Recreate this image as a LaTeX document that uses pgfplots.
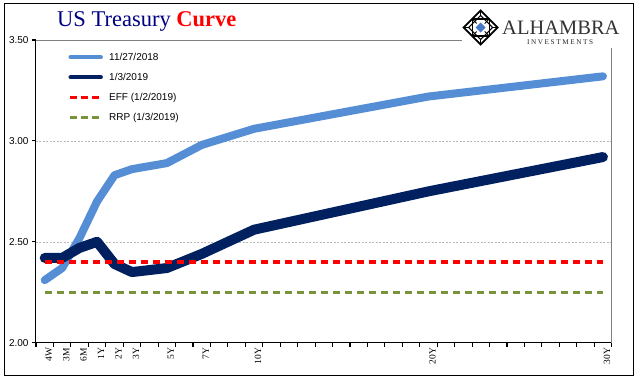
\documentclass[border=0pt]{standalone}
\usepackage{pgfplots}
\pgfplotsset{compat=1.18}
\usepackage{fontspec}
\setmainfont{Liberation Serif}
\newfontfamily\lsans{Liberation Sans}
\newfontfamily\lserif{Liberation Serif}
\newfontfamily\lserifsp{Liberation Serif}[LetterSpace=22]
\definecolor{lightblue}{RGB}{85,142,213}
\definecolor{darknavy}{RGB}{0,32,96}
\definecolor{effred}{RGB}{255,0,0}
\definecolor{rrpgreen}{RGB}{119,147,60}
\definecolor{titlenavy}{RGB}{0,0,128}
\definecolor{logoblue}{RGB}{70,120,200}
\begin{document}
\begin{tikzpicture}
\useasboundingbox (0pt,0pt) rectangle (641pt,-381pt);
\fill[white] (0pt,0pt) rectangle (641pt,-381pt);
\begin{axis}[
  at={(36pt,-342.7pt)}, anchor=south west,
  scale only axis, width=575.7pt, height=302.7pt,
  xmin=0, xmax=33, ymin=2, ymax=3.5,
  axis x line*=bottom, axis y line*=left,
  axis line style={black, line width=1pt},
  tick align=outside, major tick length=4pt,
  tick style={black, line width=1.1pt},
  major x tick style={draw=none},
  xtick={0.5,1.5,2.5,3.5,4.5,5.5,7.5,9.5,12.5,22.5,32.5},
  xticklabels={4W,3M,6M,1Y,2Y,3Y,5Y,7Y,10Y,20Y,30Y},
  xticklabel style={rotate=90, anchor=east, font=\lserif\fontsize{9.5}{11}\selectfont, inner sep=1pt, yshift=-4pt},
  ytick={2,2.5,3,3.5},
  yticklabel style={font=\lsans\fontsize{10}{12}\selectfont, /pgf/number format/.cd, fixed, fixed zerofill, precision=2, assume math mode=true},
  ymajorgrids, grid style={dashed, gray!55, line width=0.5pt, dash pattern=on 2pt off 1.5pt},
  legend style={at={(0.0556,0.965)}, anchor=north west, draw=none, fill=none,
     font=\lsans\fontsize{10}{12}\selectfont, row sep=7.3pt, inner sep=0pt,
     /tikz/every odd column/.append style={column sep=4pt}},
  legend cell align=left,
  clip=false,
]
\addplot[lightblue, line width=8pt, line cap=round, line join=round,
  legend image code/.code={\draw[lightblue, line width=4.5pt, line cap=round] (1pt,0pt) -- (31pt,0pt);}]
  coordinates {(0.5,2.31)(1.5,2.37)(2.5,2.52)(3.5,2.70)(4.5,2.83)(5.5,2.86)(7.5,2.89)(9.5,2.98)(12.5,3.06)(22.5,3.22)(32.5,3.32)};
\addlegendentry{11/27/2018}
\addplot[darknavy, line width=10pt, line cap=round, line join=round,
  legend image code/.code={\draw[darknavy, line width=4.5pt, line cap=round] (1pt,0pt) -- (31pt,0pt);}]
  coordinates {(0.5,2.42)(1.5,2.42)(2.5,2.47)(3.5,2.50)(4.5,2.39)(5.5,2.35)(7.5,2.37)(9.5,2.44)(12.5,2.56)(22.5,2.75)(32.5,2.92)};
\addlegendentry{1/3/2019}
\addplot[effred, line width=3.2pt, dash pattern=on 7.5pt off 4.5pt,
  legend image code/.code={\draw[effred, line width=3pt, dash pattern=on 7pt off 4pt] (0pt,0pt) -- (32pt,0pt);}]
  coordinates {(0.5,2.40)(32.5,2.40)};
\addlegendentry{EFF (1/2/2019)}
\addplot[rrpgreen, line width=3.2pt, dash pattern=on 7.5pt off 4.5pt,
  legend image code/.code={\draw[rrpgreen, line width=3pt, dash pattern=on 7pt off 4pt] (0pt,0pt) -- (32pt,0pt);}]
  coordinates {(0.5,2.25)(32.5,2.25)};
\addlegendentry{RRP (1/3/2019)}
\draw[gray, line width=0.9pt] (rel axis cs:0,1) -- (rel axis cs:1,1) -- (rel axis cs:1,0);
\pgfplotsinvokeforeach{0,...,33}{\draw[black, line width=1.1pt] (axis cs:#1,2) -- ++(0pt,-4.5pt);}
\end{axis}
% logo area
\fill[white] (462pt,-1pt) rectangle (632pt,-47.5pt);
\begin{scope}[shift={(480.7pt,-27.5pt)}]
  \draw[black, line width=1.8pt, line join=miter] (-17pt,0pt) -- (0pt,17pt) -- (17pt,0pt) -- (0pt,-17pt) -- cycle;
  \draw[black, line width=1.1pt] (-8.5pt,-8.5pt) rectangle (8.5pt,8.5pt);
  \draw[black, line width=1.1pt] (-12pt,0pt) -- (0pt,12pt) -- (12pt,0pt) -- (0pt,-12pt) -- cycle;
  \draw[black, line width=0.9pt] (-17pt,0pt) -- (-12pt,0pt) (17pt,0pt) -- (12pt,0pt) (0pt,17pt) -- (0pt,12pt) (0pt,-17pt) -- (0pt,-12pt);
  \draw[black, line width=0.9pt] (-8.5pt,8.5pt) -- (-4pt,4pt) (8.5pt,8.5pt) -- (4pt,4pt) (8.5pt,-8.5pt) -- (4pt,-4pt) (-8.5pt,-8.5pt) -- (-4pt,-4pt);
  \fill[logoblue] (-5pt,0pt) -- (0pt,5pt) -- (5pt,0pt) -- (0pt,-5pt) -- cycle;
\end{scope}
\node[anchor=base west, inner sep=0pt, text=black!80] at (502pt,-34.3pt) {\lserif\fontsize{20.5}{22}\selectfont ALHAMBRA};
\node[anchor=base west, inner sep=0pt, text=black!85] at (527pt,-44.5pt) {\lserifsp\fontsize{7.2}{8}\selectfont INVESTMENTS};
% title
\node[anchor=base west, inner sep=0pt] at (57pt,-26.7pt) {\lserif\fontsize{22.5}{24}\selectfont\textcolor{titlenavy}{US Treasury} \textcolor{effred}{\bfseries Curve}};
% outer frame
\draw[black, line width=1pt] (4pt,-3.5pt) rectangle (633.5pt,-375.5pt);
\end{tikzpicture}
\end{document}
